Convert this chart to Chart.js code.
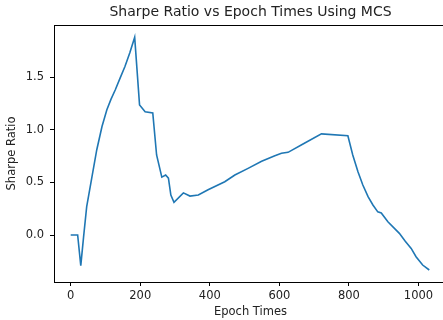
<!DOCTYPE html>
<html>
<head>
<meta charset="utf-8">
<script src="https://cdn.jsdelivr.net/npm/chart.js@4/dist/chart.umd.min.js"></script>
<style>
html,body{margin:0;padding:0;background:#fff;overflow:hidden;width:443px;height:320px;}
canvas{display:block;}
</style>
</head>
<body>
<canvas id="c" width="448" height="320"></canvas>
<script>
const chartTitle = "Sharpe Ratio vs Epoch Times Using MCS";
const xTitle = "Epoch Times";
const yTitle = "Sharpe Ratio";
const epochs = [0, 20, 29, 37, 46, 61, 75, 90, 104, 116, 128, 142, 156, 170, 184, 198, 214, 236, 247, 262, 273, 281, 288, 297, 324, 343, 367, 395, 443, 472, 510, 549, 587, 606, 625, 668, 721, 797, 811, 826, 840, 855, 869, 883, 893, 912, 945, 962, 979, 993, 1012, 1031];
const sharpe = [0.0, 0.0, -0.29, -0.02, 0.27, 0.55, 0.81, 1.03, 1.19, 1.29, 1.377, 1.49, 1.60, 1.73, 1.877, 1.235, 1.17, 1.16, 0.76, 0.55, 0.57, 0.54, 0.38, 0.31, 0.40, 0.37, 0.38, 0.43, 0.506, 0.57, 0.633, 0.70, 0.753, 0.776, 0.785, 0.864, 0.96, 0.943, 0.76, 0.60, 0.475, 0.364, 0.285, 0.22, 0.21, 0.126, 0.016, -0.06, -0.127, -0.206, -0.285, -0.332];
const xTicks = [0, 200, 400, 600, 800, 1000];
const yTicks = [0.0, 0.5, 1.0, 1.5];

const points = epochs.map((x, i) => ({x: x, y: sharpe[i]}));
const FONT = "'DejaVu Sans', sans-serif";

const framePlugin = {
  id: 'frame',
  afterDraw(chart) {
    const {ctx, chartArea: a} = chart;
    ctx.save();
    ctx.strokeStyle = '#000';
    ctx.lineWidth = 1;
    ctx.beginPath();
    ctx.moveTo(a.left, a.top + 0.5);
    ctx.lineTo(a.right, a.top + 0.5);
    ctx.moveTo(a.right - 0.5, a.top);
    ctx.lineTo(a.right - 0.5, a.bottom);
    ctx.stroke();
    ctx.fillStyle = '#222';
    ctx.font = "14px " + FONT;
    ctx.textAlign = 'center';
    ctx.textBaseline = 'middle';
    ctx.fillText(chartTitle, (a.left + a.right) / 2, 12);
    ctx.restore();
  }
};

new Chart(document.getElementById('c'), {
  type: 'line',
  data: {
    datasets: [{
      data: points,
      borderColor: '#1f77b4',
      borderWidth: 1.6,
      pointRadius: 0,
      tension: 0,
      fill: false
    }]
  },
  options: {
    responsive: false,
    animation: false,
    layout: {padding: {top: 25, left: 0, right: 1, bottom: 0}},
    plugins: {legend: {display: false}, tooltip: {enabled: false}},
    scales: {
      x: {
        type: 'linear',
        min: -48, max: 1082,
        afterBuildTicks: s => { s.ticks = xTicks.map(v => ({value: v})); },
        afterFit: s => { s.height = 38; },
        grid: {display: true, drawOnChartArea: false, drawTicks: true, tickLength: 4, color: '#000'},
        border: {display: true, color: '#000', width: 1},
        ticks: {color: '#222', font: {family: FONT, size: 11.5}, padding: 3, maxRotation: 0, autoSkip: false, callback: v => String(v)},
        title: {display: true, text: xTitle, color: '#222', font: {family: FONT, size: 11.5}, padding: {top: 0, bottom: 1}}
      },
      y: {
        type: 'linear',
        min: -0.446, max: 1.994,
        afterBuildTicks: s => { s.ticks = yTicks.map(v => ({value: v})); },
        afterFit: s => { s.width = 54; },
        grid: {display: true, drawOnChartArea: false, drawTicks: true, tickLength: 4, color: '#000'},
        border: {display: true, color: '#000', width: 1},
        ticks: {color: '#222', font: {family: FONT, size: 11.5}, padding: 6, callback: v => v.toFixed(1)},
        title: {display: true, text: yTitle, color: '#222', font: {family: FONT, size: 11.5}, padding: {top: 5, bottom: 0}}
      }
    }
  },
  plugins: [framePlugin]
});
</script>
</body>
</html>
